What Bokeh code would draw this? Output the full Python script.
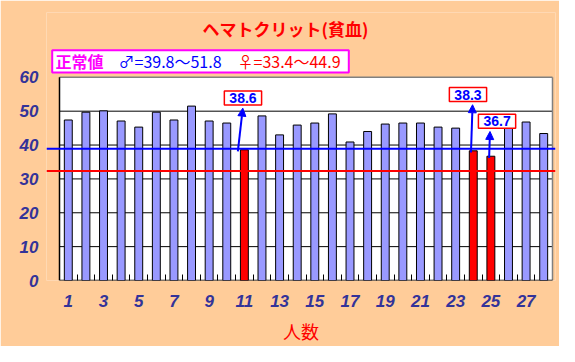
from bokeh.plotting import figure
from bokeh.models import Range1d, FixedTicker, Label, Arrow, NormalHead, BoxAnnotation, Span
from bokeh.embed import file_html
from bokeh.resources import INLINE

# ---- data ----
people = list(range(1, 29))
hematocrit = [47.4, 49.7, 50.1, 47.1, 45.3, 49.7, 47.4, 51.5, 47.1, 46.5,
              38.6, 48.6, 43.0, 45.9, 46.5, 49.2, 40.9, 44.0, 46.2, 46.5,
              46.5, 45.3, 45.0, 38.3, 36.7, 45.8, 46.8, 43.4]
low_people = [11, 24, 25]
x_tick_values = list(range(1, 28, 2))
y_tick_values = [0, 10, 20, 30, 40, 50, 60]
male_range = (39.8, 51.8)
female_range = (33.4, 44.9)
male_line_level = 38.9      # blue line as drawn
female_line_level = 32.3    # red line as drawn

title_text = "ヘマトクリット(貧血)"
x_title = "人数"

# ---- layout / style (canvas pixel coordinates) ----
PEACH = "#FFCC99"
BAR = "#9999FF"
LOW = "#FF0000"
AXIS_TXT = "#333399"

W, H = 559, 346
FRAME_L, FRAME_R, FRAME_T, FRAME_B = 46, 555, 12, 282
AREA_L, AREA_R, AREA_T = 59, 552, 77.3
n = len(people)
ymax = y_tick_values[-1]
px_per_x = (AREA_R - AREA_L) / n
px_per_y = (FRAME_B - AREA_T) / ymax
x0 = 0.5 - (AREA_L - FRAME_L) / px_per_x
x1 = n + 0.5 + (FRAME_R - AREA_R) / px_per_x
ytop = (FRAME_B - FRAME_T) / px_per_y

p = figure(width=W, height=H, x_range=Range1d(x0, x1), y_range=Range1d(0, ytop),
           output_backend="svg", toolbar_location=None,
           min_border_left=FRAME_L, min_border_right=W - FRAME_R,
           min_border_top=FRAME_T, min_border_bottom=H - FRAME_B)
p.styles = {"outline": "1px solid black", "outline-offset": "-3px"}
p.background_fill_color = PEACH
p.border_fill_color = PEACH
p.outline_line_color = None
p.xgrid.visible = False
p.ygrid.visible = False

# axes
p.xaxis.ticker = FixedTicker(ticks=x_tick_values, minor_ticks=[i + 0.5 for i in people[:-1]])
p.xaxis.axis_line_color = None
p.xaxis.major_tick_line_color = None
p.xaxis.major_tick_in = 0
p.xaxis.major_tick_out = 0
p.xaxis.minor_tick_line_color = "black"
p.xaxis.minor_tick_in = 6
p.xaxis.minor_tick_out = 0
p.xaxis.major_label_standoff = 14
p.xaxis.axis_label = x_title
p.xaxis.axis_label_text_font = "Noto Sans CJK JP"
p.xaxis.axis_label_text_font_style = "normal"
p.xaxis.axis_label_text_font_size = "18px"
p.xaxis.axis_label_text_color = "#FF0000"
p.xaxis.axis_label_standoff = 8
p.yaxis.ticker = FixedTicker(ticks=y_tick_values, minor_ticks=[])
p.yaxis.axis_line_color = None
p.yaxis.major_tick_line_color = None
p.yaxis.major_tick_in = 0
p.yaxis.major_tick_out = 0
p.yaxis.minor_tick_line_color = None
p.yaxis.major_label_standoff = 8
for ax in (p.xaxis, p.yaxis):
    ax.major_label_text_font = "Liberation Sans"
    ax.major_label_text_font_style = "bold italic"
    ax.major_label_text_font_size = "17px"
    ax.major_label_text_color = AXIS_TXT

# plot area
p.quad(left=0.5, right=n + 0.5, bottom=0, top=ymax, fill_color="white", line_color=None)
grid_levels = y_tick_values[1:-1]
p.segment(x0=[0.5] * len(grid_levels), x1=[n + 0.5] * len(grid_levels),
          y0=grid_levels, y1=grid_levels, line_color="black", line_width=1)
p.segment(x0=[0.5, n + 0.5], x1=[n + 0.5, n + 0.5], y0=[ymax, 0], y1=[ymax, ymax],
          line_color="#808080", line_width=1.5)
p.segment(x0=[0.5, 0.5], x1=[0.5, n + 0.5], y0=[0, 0], y1=[ymax, 0],
          line_color="black", line_width=1.5)

colors = [LOW if x in low_people else BAR for x in people]
p.vbar(x=people, top=hematocrit, width=0.45, fill_color=colors, line_color="black", line_width=1)

p.add_layout(Span(location=male_line_level, dimension="width", line_color="#0000FF", line_width=2))
p.add_layout(Span(location=female_line_level, dimension="width", line_color="#FF0000", line_width=2))

# callouts on low values
start_dx = [-0.37, -0.13, -0.1]
end_dx = [-0.09, -0.04, -0.05]
label_dx = [-0.08, -0.3, 0.35]
label_y = [53.9, 54.9, 47.0]
for i, person in enumerate(low_people):
    v = hematocrit[person - 1]
    p.add_layout(Arrow(end=NormalHead(size=8, fill_color="#0000FF", line_color="#0000FF"),
                       x_start=person + start_dx[i], y_start=v - 0.5,
                       x_end=person + end_dx[i], y_end=label_y[i] - 3.0,
                       line_color="#0000FF", line_width=2))
    p.add_layout(Label(x=person + label_dx[i], y=label_y[i], text=f"{v}",
                       text_align="center", text_baseline="middle",
                       text_font="Liberation Sans", text_font_style="bold",
                       text_font_size="14px", text_color="#0000FF",
                       background_fill_color="white", border_line_color="#FF0000",
                       border_line_width=1.5, padding=(5, 2)))

# title and legend box (screen units are relative to the frame, origin bottom-left)
def sx(cx):
    return cx - FRAME_L

def sy(cy):
    return FRAME_B - cy

p.add_layout(Label(x=sx(285), y=sy(30), x_units="screen", y_units="screen", text=title_text,
                   text_align="center", text_baseline="middle", text_font="Noto Sans CJK JP",
                   text_font_style="bold", text_font_size="17px", text_color="#FF0000"))
p.add_layout(BoxAnnotation(left=sx(51.7), right=sx(348.3), top=sy(51.7), bottom=sy(74),
                           left_units="screen", right_units="screen",
                           top_units="screen", bottom_units="screen",
                           fill_color="white", fill_alpha=1, line_color="#FF00FF",
                           line_width=2, line_alpha=1))
legend_items = [("正常値", 55, "#FF00FF", "bold"),
                (f"♂={male_range[0]}〜{male_range[1]}", 118, "#0000FF", "normal"),
                (f"♀={female_range[0]}〜{female_range[1]}", 237, "#FF0000", "normal")]
for txt, lx, col, st in legend_items:
    p.add_layout(Label(x=sx(lx), y=sy(62.7), x_units="screen", y_units="screen", text=txt,
                       text_align="left", text_baseline="middle", text_font="Noto Sans CJK JP",
                       text_font_style=st, text_font_size="16px", text_color=col))

open("out.html", "w").write(file_html(p, INLINE))
